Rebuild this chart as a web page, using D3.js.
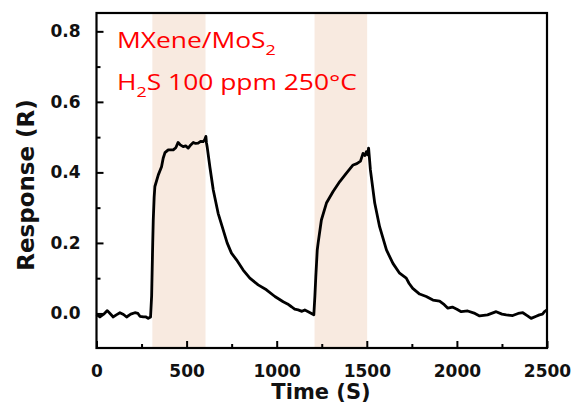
<!DOCTYPE html>
<html>
<head>
<meta charset="utf-8">
<script src="https://cdn.jsdelivr.net/npm/d3@7"></script>
<style>
  html, body { margin: 0; padding: 0; background: #fff; }
  svg { display: block; }
</style>
</head>
<body>
<svg id="chart" width="574" height="405"></svg>
<script>
// Gas exposure windows (s): H2S on
const exposureStart = [310, 1210];
const exposureEnd = [605, 1502];

// Sensor response trace
const timeS = [
  0, 19, 40, 60, 75, 93, 110, 130, 150, 167, 190, 213, 230, 241, 260, 275, 287, 300,
  306, 312, 315, 320, 324, 343, 361, 370, 380, 398, 426, 440, 453, 465, 481, 495, 509,
  523, 537, 550, 564, 578, 592, 600, 607, 610,
  614, 629, 648, 675, 703, 725, 749, 777, 814, 851, 897, 943, 990, 1036, 1060, 1082,
  1100, 1119, 1140, 1156, 1175, 1193, 1206,
  1212, 1217, 1225, 1230, 1248, 1276, 1313, 1350, 1387, 1424, 1445, 1465, 1479, 1490,
  1498, 1505, 1510,
  1520, 1544, 1571, 1609, 1645, 1682, 1719, 1735, 1755, 1793, 1830, 1867, 1904, 1930,
  1950, 1975, 2000, 2024, 2060, 2100, 2126, 2170, 2218, 2250, 2274, 2310, 2340, 2366,
  2390, 2412, 2440, 2458, 2475, 2486, 2500
];
const responseR = [
  -0.003, -0.01, -0.002, 0.008, 0.0, -0.01, -0.004, 0.002, -0.003, -0.01, -0.002, 0.002, 0.0, -0.008, -0.01, -0.01, -0.014, -0.01,
  0.05, 0.2, 0.265, 0.33, 0.36, 0.393, 0.416, 0.44, 0.456, 0.464, 0.464, 0.47, 0.485, 0.478, 0.473, 0.475, 0.469,
  0.478, 0.485, 0.482, 0.483, 0.488, 0.487, 0.492, 0.502, 0.485,
  0.473, 0.416, 0.35, 0.284, 0.237, 0.2, 0.171, 0.152, 0.123, 0.1, 0.081, 0.067, 0.048, 0.033, 0.027, 0.019,
  0.012, 0.01, 0.006, 0.01, 0.005, 0.0, -0.004,
  0.05, 0.104, 0.18, 0.2, 0.265, 0.313, 0.346, 0.374, 0.398, 0.421, 0.425, 0.432, 0.454, 0.448,
  0.459, 0.45, 0.469,
  0.407, 0.313, 0.246, 0.18, 0.142, 0.114, 0.1, 0.085, 0.071, 0.055, 0.048, 0.038, 0.035, 0.025,
  0.015, 0.018, 0.012, 0.005, 0.007, 0.0, -0.007, -0.004, 0.005, -0.002, -0.004, -0.006, 0.0, 0.002,
  -0.006, -0.014, -0.008, -0.004, -0.002, 0.005, 0.01
];

const xMajorTicks = [0, 500, 1000, 1500, 2000, 2500];
const xMinorTicks = [250, 750, 1250, 1750, 2250];
const yMajorTicks = [0.0, 0.2, 0.4, 0.6, 0.8];
const yMinorTicks = [0.1, 0.3, 0.5, 0.7];

const xTitle = "Time (S)";
const yTitle = "Response (R)";

const svg = d3.select("#chart");
const plotLeft = 96.5, plotRight = 547, plotTop = 13, plotBottom = 348;

const x = d3.scaleLinear().domain([0, 2500]).range([plotLeft, plotRight]);
const y = d3.scaleLinear().domain([-0.098, 0.852]).range([plotBottom, plotTop]);

const axisFont = "'DejaVu Sans', sans-serif";

// exposure bands
svg.append("g").selectAll("rect")
  .data(exposureStart.map((s, i) => [s, exposureEnd[i]]))
  .join("rect")
  .attr("x", d => x(d[0]))
  .attr("width", d => x(d[1]) - x(d[0]))
  .attr("y", plotTop)
  .attr("height", plotBottom - plotTop)
  .attr("fill", "#f8eae0");

// response trace
const pts = timeS.map((t, i) => [t, responseR[i]]);
svg.append("path")
  .datum(pts)
  .attr("fill", "none")
  .attr("stroke", "#000")
  .attr("stroke-width", 2.8)
  .attr("stroke-linejoin", "round")
  .attr("d", d3.line().x(d => x(d[0])).y(d => y(d[1])));

// axes: ticks drawn inward
svg.append("g")
  .attr("transform", `translate(0,${plotBottom})`)
  .call(d3.axisBottom(x).tickValues(xMajorTicks).tickSizeInner(-7).tickSizeOuter(0).tickPadding(17).tickFormat(d3.format("d")));
svg.append("g")
  .attr("transform", `translate(0,${plotBottom})`)
  .call(d3.axisBottom(x).tickValues(xMinorTicks).tickSizeInner(-4).tickSizeOuter(0).tickFormat(""));

svg.append("g")
  .attr("transform", `translate(${plotLeft},0)`)
  .call(d3.axisLeft(y).tickValues(yMajorTicks).tickSizeInner(-7).tickSizeOuter(0).tickPadding(16).tickFormat(d3.format(".1f")));
svg.append("g")
  .attr("transform", `translate(${plotLeft},0)`)
  .call(d3.axisLeft(y).tickValues(yMinorTicks).tickSizeInner(-4).tickSizeOuter(0).tickFormat(""));

svg.selectAll(".domain").remove();
svg.selectAll(".tick line").attr("stroke", "#000").attr("stroke-width", 2);
svg.selectAll(".tick text")
  .attr("font-family", axisFont)
  .attr("font-weight", "bold")
  .attr("font-size", 17)
  .attr("fill", "#111");

// frame
svg.append("rect")
  .attr("x", plotLeft).attr("y", plotTop)
  .attr("width", plotRight - plotLeft).attr("height", plotBottom - plotTop)
  .attr("fill", "none").attr("stroke", "#000").attr("stroke-width", 2.2);

// axis titles
svg.append("text")
  .attr("x", 321).attr("y", 399)
  .attr("text-anchor", "middle")
  .attr("font-family", axisFont).attr("font-weight", "bold").attr("font-size", 21)
  .attr("fill", "#111")
  .text(xTitle);

svg.append("text")
  .attr("transform", "translate(34,185) rotate(-90)")
  .attr("text-anchor", "middle")
  .attr("font-family", axisFont).attr("font-weight", "bold").attr("font-size", 23)
  .attr("fill", "#111")
  .text(yTitle);

// sample / condition annotation (slightly widened lettering)
const noteFont = "'Open Sans', 'Noto Sans', sans-serif";
const note = svg.append("g").attr("transform", "translate(117,0) scale(1.2,1)");
const note1 = note.append("text")
  .attr("x", 0).attr("y", 48)
  .attr("font-family", noteFont).attr("font-size", 22).attr("fill", "#ff0000");
note1.append("tspan").text("MXene/MoS");
note1.append("tspan").attr("font-size", 15).attr("dy", 7).text("2");

const note2 = note.append("text")
  .attr("x", 0).attr("y", 90)
  .attr("font-family", noteFont).attr("font-size", 22).attr("fill", "#ff0000");
note2.append("tspan").text("H");
note2.append("tspan").attr("font-size", 15).attr("dy", 7).text("2");
note2.append("tspan").attr("dy", -7).text("S 100 ppm 250°C");
</script>
</body>
</html>
